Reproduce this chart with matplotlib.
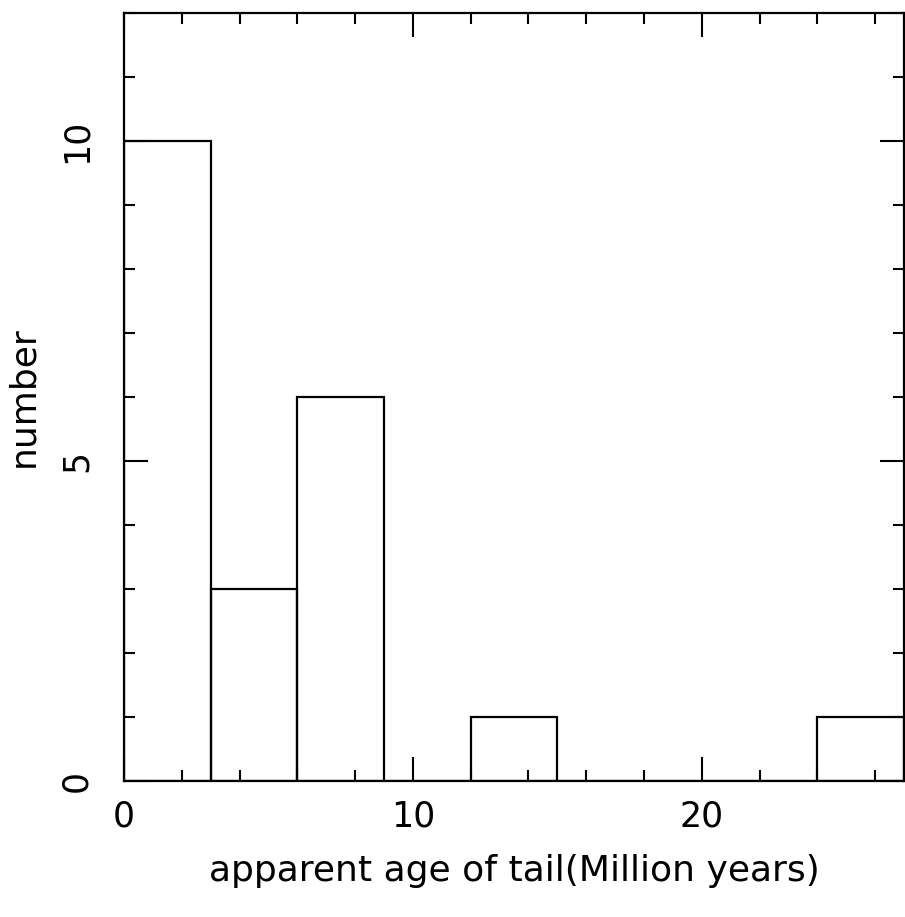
import matplotlib
matplotlib.use("Agg")
import matplotlib.pyplot as plt
from matplotlib.ticker import MultipleLocator

bin_left = [0, 3, 6, 9, 12, 15, 18, 21, 24]
counts = [10, 3, 6, 0, 1, 0, 0, 0, 1]
bin_width = 3
xlabel = "apparent age of tail(Million years)"
ylabel = "number"

plt.rcParams['font.family'] = ['DejaVu Sans']

fig = plt.figure(figsize=(9.05, 9.17), dpi=100)
ax = fig.add_axes([0.137, 0.1483, 0.862, 0.8375])

ax.bar(bin_left, counts, width=bin_width, align='edge', fill=False,
       edgecolor='black', linewidth=1.6)

ax.set_xlim(0, 27)
ax.set_ylim(0, 12)
ax.xaxis.set_major_locator(MultipleLocator(10))
ax.xaxis.set_minor_locator(MultipleLocator(2))
ax.yaxis.set_major_locator(MultipleLocator(5))
ax.yaxis.set_minor_locator(MultipleLocator(1))

ax.tick_params(which='both', direction='in', top=True, right=True, width=1.5,
               labelsize=25)
ax.tick_params(which='major', length=17)
ax.tick_params(which='minor', length=8)
ax.tick_params(axis='x', which='major', pad=13)
ax.tick_params(axis='y', which='major', pad=22)
for lab in ax.get_yticklabels():
    lab.set_rotation(90)
    lab.set_va('center')
for s in ax.spines.values():
    s.set_linewidth(1.6)

ax.set_xlabel(xlabel, fontsize=26, labelpad=15)
ax.set_ylabel(ylabel, fontsize=26, labelpad=14)

fig.savefig("out.png", dpi=100)
